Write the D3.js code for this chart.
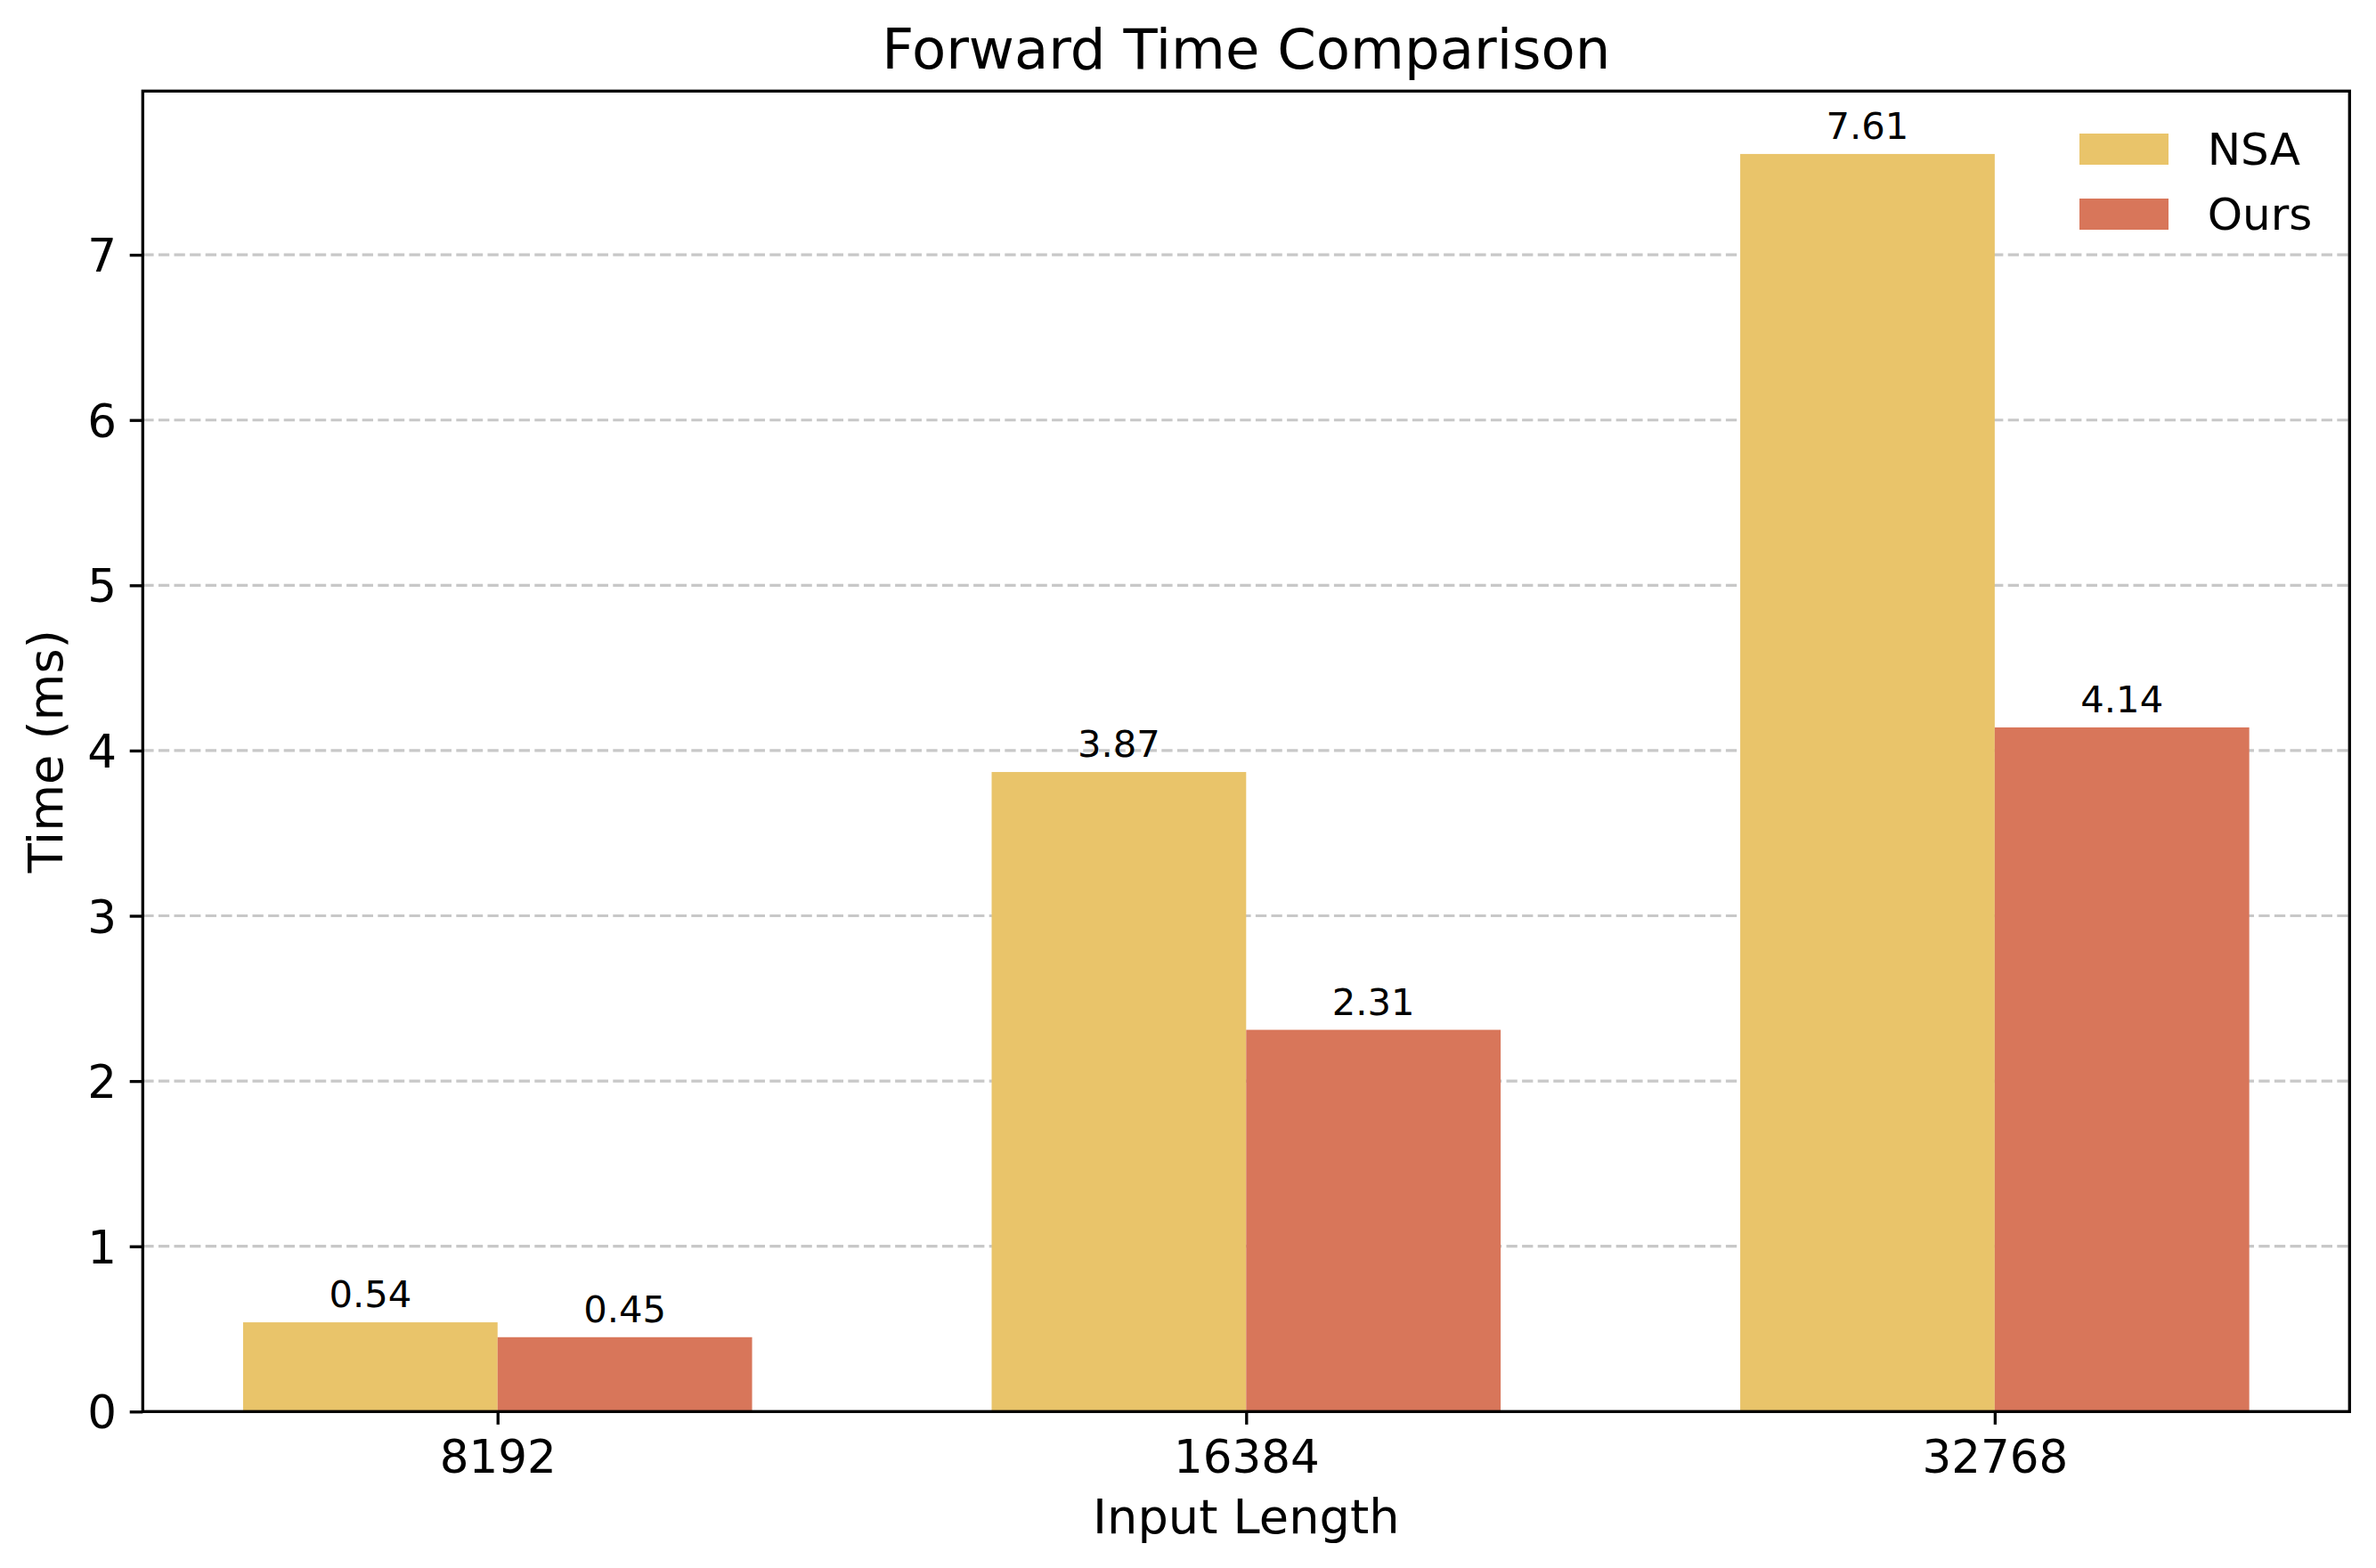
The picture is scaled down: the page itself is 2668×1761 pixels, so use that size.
<!DOCTYPE html>
<html>
<head>
<meta charset="utf-8">
<script src="https://cdn.jsdelivr.net/npm/d3@7"></script>
<style>
  html, body { margin: 0; padding: 0; background: #ffffff; }
  svg { display: block; }
  text { font-family: "DejaVu Sans", sans-serif; fill: #000; }
</style>
</head>
<body>
<svg id="chart" width="2668" height="1761"></svg>
<script>
const categories = ["8192", "16384", "32768"];
const seriesNames = ["NSA", "Ours"];
const nsaValues = [0.54, 3.87, 7.61];
const oursValues = [0.45, 2.31, 4.14];
const yTicks = [0, 1, 2, 3, 4, 5, 6, 7];
const colors = ["#e9c46a", "#d8765a"];

(function () {
const W = 2668, H = 1761;
const pL = 160.3, pR = 2638.3, pT = 102.3, pB = 1585.3;
const barW = 0.34;
const span = (categories.length - 1) + 2 * barW;
const marg = 0.05 * span;

const svg = d3.select("#chart");
svg.append("rect").attr("width", W).attr("height", H).attr("fill", "#fff");

const x = d3.scaleLinear()
  .domain([-barW - marg, categories.length - 1 + barW + marg])
  .range([pL, pR]);
const yMax = d3.max(nsaValues.concat(oursValues)) * 1.05;
const y = d3.scaleLinear().domain([0, yMax]).range([pB, pT]);

const lw = 3.33;

// grid
svg.append("g").selectAll("line").data(yTicks.filter(d => d > 0)).join("line")
  .attr("x1", pL).attr("x2", pR)
  .attr("y1", d => y(d)).attr("y2", d => y(d))
  .attr("stroke", "#c8c8c8").attr("stroke-width", 3.2)
  .attr("stroke-dasharray", "12.3,5.3");

// bars
const series = [nsaValues, oursValues];
series.forEach((vals, si) => {
  const off = si === 0 ? -barW : 0;
  const g = svg.append("g");
  g.selectAll("rect").data(vals).join("rect")
    .attr("x", (d, i) => x(i + off))
    .attr("width", (d, i) => x(i + off + barW) - x(i + off))
    .attr("y", d => y(d))
    .attr("height", d => y(0) - y(d))
    .attr("fill", colors[si]);
  g.selectAll("text").data(vals).join("text")
    .attr("x", (d, i) => x(i + off + barW / 2))
    .attr("y", d => y(d) - 17)
    .attr("text-anchor", "middle")
    .attr("font-size", 41.7)
    .text(d => d.toFixed(2));
});

// axes
const xAxis = d3.axisBottom(x).tickValues(categories.map((c, i) => i))
  .tickFormat(i => categories[i]).tickSize(14.6).tickPadding(14.6);
const gx = svg.append("g").attr("transform", `translate(0,${pB})`).call(xAxis);
gx.select(".domain").remove();
gx.selectAll(".tick line").attr("stroke", "#000").attr("stroke-width", lw);
gx.selectAll(".tick text").attr("font-size", 51.5).attr("font-family", "DejaVu Sans")
  .attr("fill", "#000").attr("dy", "0.76em").attr("y", 29.2);

const yAxis = d3.axisLeft(y).tickValues(yTicks).tickFormat(d3.format("d"))
  .tickSize(14.6).tickPadding(14.6);
const gy = svg.append("g").attr("transform", `translate(${pL},0)`).call(yAxis);
gy.select(".domain").remove();
gy.selectAll(".tick line").attr("stroke", "#000").attr("stroke-width", lw);
gy.selectAll(".tick text").attr("font-size", 51.5).attr("font-family", "DejaVu Sans")
  .attr("fill", "#000").attr("dy", "0.36em");

// frame
svg.append("rect").attr("x", pL).attr("y", pT)
  .attr("width", pR - pL).attr("height", pB - pT)
  .attr("fill", "none").attr("stroke", "#000").attr("stroke-width", lw);

// title & labels
svg.append("text").attr("x", (pL + pR) / 2).attr("y", 77.3)
  .attr("text-anchor", "middle").attr("font-size", 62.5).text("Forward Time Comparison");
svg.append("text").attr("x", (pL + pR) / 2).attr("y", 1722)
  .attr("text-anchor", "middle").attr("font-size", 54.2).text("Input Length");
svg.append("text")
  .attr("transform", `translate(70,${(pT + pB) / 2}) rotate(-90)`)
  .attr("text-anchor", "middle").attr("font-size", 54.2).text("Time (ms)");

// legend
const lg = svg.append("g");
seriesNames.forEach((name, i) => {
  const yy = 150 + i * 73;
  lg.append("rect").attr("x", 2335).attr("y", yy).attr("width", 100).attr("height", 35)
    .attr("fill", colors[i]);
  lg.append("text").attr("x", 2478.7).attr("y", yy + 35).attr("font-size", 50).text(name);
});
})();
</script>
</body>
</html>
